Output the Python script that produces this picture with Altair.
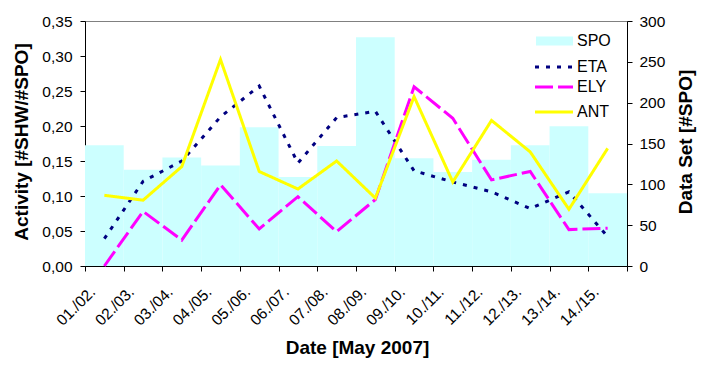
import altair as alt
import pandas as pd

categories = ["01./02.", "02./03.", "03./04.", "04./05.", "05./06.", "06./07.", "07./08.",
              "08./09.", "09./10.", "10./11.", "11./12.", "12./13.", "13./14.", "14./15."]
spo = [148, 118, 133, 123, 170, 109, 147, 280, 132, 115, 130, 148, 171, 89]
eta = [0.039, 0.121, 0.150, 0.213, 0.257, 0.147, 0.212, 0.221, 0.136, 0.120, 0.106, 0.082, 0.106, 0.042]
ely = [0.000, 0.078, 0.037, 0.116, 0.053, 0.099, 0.049, 0.095, 0.256, 0.211, 0.123, 0.135, 0.052, 0.054]
ant = [0.101, 0.094, 0.142, 0.295, 0.135, 0.110, 0.150, 0.097, 0.242, 0.120, 0.208, 0.163, 0.081, 0.168]

series_names = ["SPO", "ETA", "ELY", "ANT"]
line_names = ["ETA", "ELY", "ANT"]
line_colors = ["#000080", "#FF00FF", "#FFFF00"]
line_dashes = [[4, 7], [18, 5], [1, 0]]
bar_color = "#CCFFFF"
left_ticks = [0, 0.05, 0.10, 0.15, 0.20, 0.25, 0.30, 0.35]
right_ticks = [0, 50, 100, 150, 200, 250, 300]

font = "Liberation Sans"

bar_df = pd.DataFrame({"date": categories, "spo": spo})
line_df = pd.concat(
    [pd.DataFrame({"date": categories, "series": n, "value": v})
     for n, v in zip(line_names, [eta, ely, ant])],
    ignore_index=True,
)
legend_df = pd.DataFrame({"name": series_names})

W, H = 542, 245

x_enc = alt.X(
    "date:N", sort=categories, title="Date [May 2007]",
    scale=alt.Scale(paddingInner=0, paddingOuter=0),
    axis=alt.Axis(tickBand="extent", labelAngle=-45, labelAlign="right",
                  labelBaseline="middle", labelPadding=18, labelOffset=-12,
                  titleFontSize=19, titleFontWeight="bold",
                  titleX=W / 2 + 1, titleY=81, titleAlign="center", titleBaseline="middle"),
)

bars = alt.Chart(bar_df).mark_bar(color=bar_color).encode(
    x=x_enc,
    y=alt.Y("spo:Q", scale=alt.Scale(domain=[0, 300], nice=False),
            axis=alt.Axis(orient="right", values=right_ticks, title="Data Set [#SPO]",
                          titleAngle=270, titleX=58, titleY=120.5, titleAlign="center",
                          titleBaseline="middle", titleFontSize=19, titleFontWeight="bold",
                          labelPadding=7)),
)

lines = alt.Chart(line_df).mark_line(strokeWidth=3).encode(
    x=x_enc,
    y=alt.Y("value:Q", scale=alt.Scale(domain=[0, 0.35], nice=False),
            axis=alt.Axis(orient="left", values=left_ticks, title="Activity [#SHW/#SPO]",
                          labelExpr="replace(format(datum.value, '.2f'), '.', ',')",
                          titleAngle=270, titleX=-64, titleY=120.5, titleAlign="center",
                          titleBaseline="middle", titleFontSize=19, titleFontWeight="bold",
                          labelPadding=8)),
    color=alt.Color("series:N", scale=alt.Scale(domain=line_names, range=line_colors), legend=None),
    strokeDash=alt.StrokeDash("series:N", scale=alt.Scale(domain=line_names, range=line_dashes), legend=None),
)

# manual legend (inside plot, top right)
leg_x0, leg_x1, leg_tx = 451, 488, 492
leg_y = {"SPO": 20, "ETA": 46, "ELY": 66, "ANT": 91}

legend_layers = [
    alt.Chart(legend_df).transform_filter(alt.datum.name == "SPO").mark_rect(color=bar_color).encode(
        x=alt.value(leg_x0), x2=alt.value(leg_x1),
        y=alt.value(leg_y["SPO"] - 4.5), y2=alt.value(leg_y["SPO"] + 4.5)),
]
for n, c, d in zip(line_names, line_colors, line_dashes):
    legend_layers.append(
        alt.Chart(legend_df).transform_filter(alt.datum.name == n)
        .mark_rule(color=c, strokeWidth=3, strokeDash=d)
        .encode(x=alt.value(leg_x0 - 1), x2=alt.value(leg_x1), y=alt.value(leg_y[n]))
    )
for n in series_names:
    legend_layers.append(
        alt.Chart(legend_df).transform_filter(alt.datum.name == n)
        .mark_text(align="left", baseline="middle", fontSize=16, font=font, color="black")
        .encode(text="name:N", x=alt.value(leg_tx), y=alt.value(leg_y[n]))
    )

chart = (
    alt.layer(bars, lines, *legend_layers)
    .resolve_scale(y="independent")
    .properties(width=W, height=H,
                autosize=alt.AutoSizeParams(type="none"),
                padding={"left": 77, "top": 13, "right": 75, "bottom": 100})
    .configure_view(stroke="#808080", strokeWidth=1)
    .configure_axis(domainColor="black", tickColor="black", labelColor="black",
                    titleColor="black", labelFont=font, titleFont=font, tickSize=5,
                    grid=False, labelFontSize=15.5)
)

chart.save("out.html", embed_options={"renderer": "svg", "actions": False})
